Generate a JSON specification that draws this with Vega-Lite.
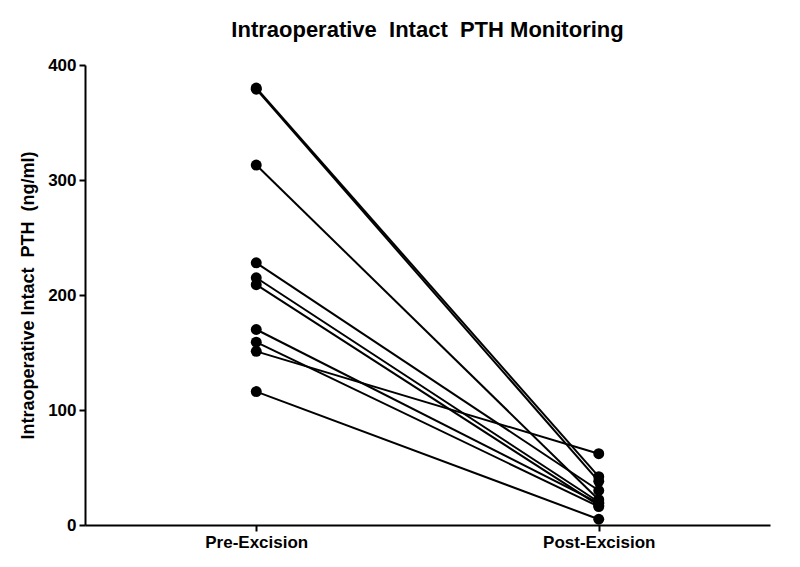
{
  "$schema": "https://vega.github.io/schema/vega-lite/v6.json",
  "width": 685,
  "height": 460,
  "autosize": "none",
  "padding": {"left": 85, "top": 65, "right": 30, "bottom": 42},
  "background": "white",
  "title": {"text": "Intraoperative\u00a0\u00a0Intact\u00a0\u00a0PTH Monitoring", "font": "Liberation Sans", "fontSize": 22, "fontWeight": "bold", "color": "black", "offset": 14, "anchor": "middle"},
  "data": {"values": [
    {"patient": 1, "phase": "Pre-Excision", "pth": 380},
    {"patient": 1, "phase": "Post-Excision", "pth": 42},
    {"patient": 2, "phase": "Pre-Excision", "pth": 379},
    {"patient": 2, "phase": "Post-Excision", "pth": 38},
    {"patient": 3, "phase": "Pre-Excision", "pth": 313},
    {"patient": 3, "phase": "Post-Excision", "pth": 22},
    {"patient": 4, "phase": "Pre-Excision", "pth": 228},
    {"patient": 4, "phase": "Post-Excision", "pth": 30},
    {"patient": 5, "phase": "Pre-Excision", "pth": 215},
    {"patient": 5, "phase": "Post-Excision", "pth": 20},
    {"patient": 6, "phase": "Pre-Excision", "pth": 209},
    {"patient": 6, "phase": "Post-Excision", "pth": 17},
    {"patient": 7, "phase": "Pre-Excision", "pth": 170},
    {"patient": 7, "phase": "Post-Excision", "pth": 19},
    {"patient": 8, "phase": "Pre-Excision", "pth": 159},
    {"patient": 8, "phase": "Post-Excision", "pth": 16},
    {"patient": 9, "phase": "Pre-Excision", "pth": 151},
    {"patient": 9, "phase": "Post-Excision", "pth": 62},
    {"patient": 10, "phase": "Pre-Excision", "pth": 116},
    {"patient": 10, "phase": "Post-Excision", "pth": 5}
  ]},
  "encoding": {
    "x": {"field": "phase", "type": "nominal", "sort": ["Pre-Excision", "Post-Excision"],
      "scale": {"type": "point", "padding": 0.5},
      "axis": {"title": null, "labelAngle": 0, "labelFont": "Liberation Sans", "labelFontSize": 17, "labelFontWeight": "bold", "labelColor": "black", "labelPadding": 3, "domainColor": "black", "domainWidth": 2, "tickColor": "black", "tickWidth": 2, "tickSize": 6, "grid": false}},
    "y": {"field": "pth", "type": "quantitative",
      "scale": {"domain": [0, 400], "nice": false},
      "axis": {"title": "Intraoperative Intact\u00a0\u00a0PTH\u00a0\u00a0(ng/ml)", "values": [0, 100, 200, 300, 400], "titleFont": "Liberation Sans", "titleFontSize": 18, "titleFontWeight": "bold", "titleColor": "black", "titlePadding": 10, "labelFont": "Liberation Sans", "labelFontSize": 17, "labelFontWeight": "bold", "labelColor": "black", "labelPadding": 3, "domainColor": "black", "domainWidth": 2, "tickColor": "black", "tickWidth": 2, "tickSize": 6, "grid": false}},
    "detail": {"field": "patient", "type": "nominal"}
  },
  "layer": [
    {"mark": {"type": "line", "color": "black", "strokeWidth": 2}},
    {"mark": {"type": "point", "filled": true, "shape": "circle", "color": "black", "opacity": 1, "size": 120}}
  ],
  "config": {"view": {"stroke": null}}
}
